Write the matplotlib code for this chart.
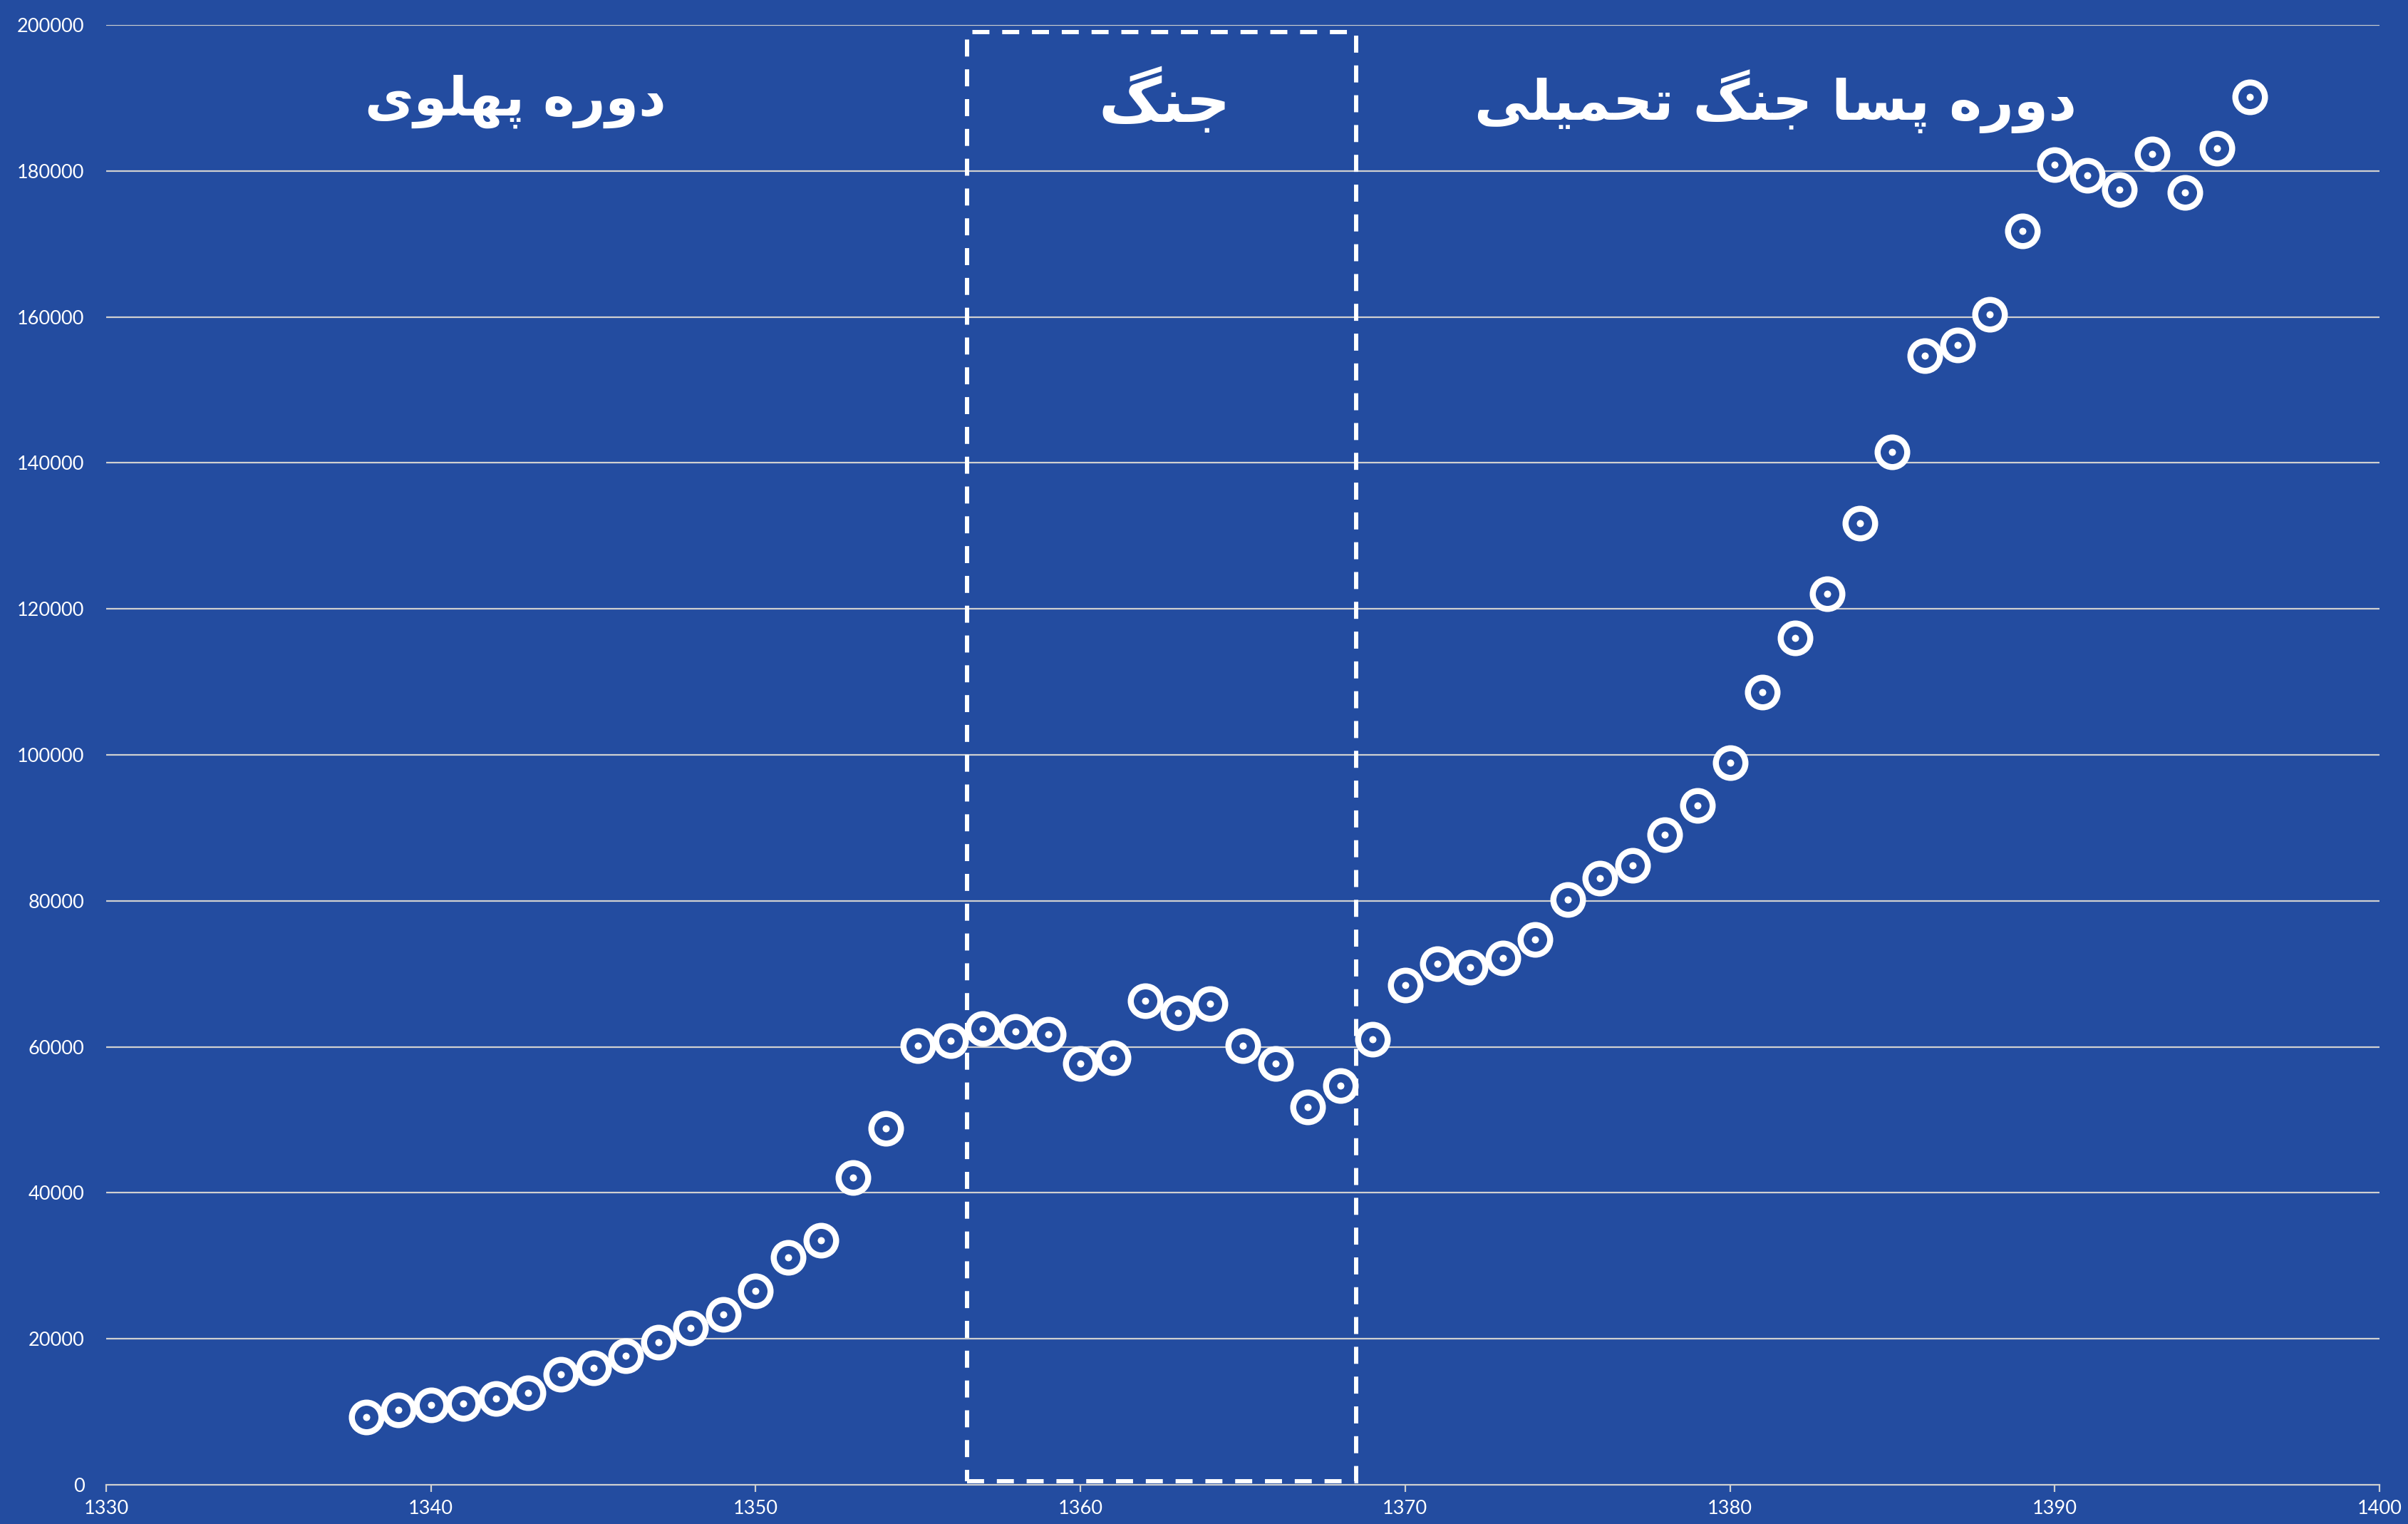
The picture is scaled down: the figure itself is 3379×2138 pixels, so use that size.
import matplotlib
matplotlib.use("Agg")
import matplotlib.pyplot as plt
from matplotlib.patches import Rectangle

# ---------------- data ----------------
years = list(range(1338, 1397))
values = [9300, 10300, 10950, 11150, 11800, 12630, 15160, 16000, 17680, 19580,
          21470, 23370, 26520, 31150, 33470, 42100, 48840, 60200, 60840, 62520,
          62100, 61680, 57680, 58520, 66300, 64630, 65890, 60200, 57680, 51790,
          54730, 61050, 68420, 71360, 70940, 72200, 74730, 80200, 83150, 84830,
          89040, 93040, 98940, 108620, 116000, 122100, 131780, 141460, 154720, 156200,
          160400, 171770, 180830, 179350, 177460, 182300, 177040, 183140, 190090]
x_ticks = list(range(1330, 1401, 10))
y_ticks = list(range(0, 200001, 20000))
period_labels = ["دوره پهلوی", "جنگ", "دوره پسا جنگ تحمیلی"]
period_centers = [1342.6, 1362.6, 1381.4]
period_sizes = [54, 62, 56]
war_start, war_end = 1356.5, 1368.5

# ------------- minimal Arabic/Persian shaping -------------
FORMS = {  # isolated, final, initial, medial
    'ا': ('\uFE8D', '\uFE8E', None, None),
    'ت': ('\uFE95', '\uFE96', '\uFE97', '\uFE98'),
    'ج': ('\uFE9D', '\uFE9E', '\uFE9F', '\uFEA0'),
    'ح': ('\uFEA1', '\uFEA2', '\uFEA3', '\uFEA4'),
    'د': ('\uFEA9', '\uFEAA', None, None),
    'ر': ('\uFEAD', '\uFEAE', None, None),
    'س': ('\uFEB1', '\uFEB2', '\uFEB3', '\uFEB4'),
    'ل': ('\uFEDD', '\uFEDE', '\uFEDF', '\uFEE0'),
    'م': ('\uFEE1', '\uFEE2', '\uFEE3', '\uFEE4'),
    'ن': ('\uFEE5', '\uFEE6', '\uFEE7', '\uFEE8'),
    'ه': ('\uFEE9', '\uFEEA', '\uFEEB', '\uFEEC'),
    'و': ('\uFEED', '\uFEEE', None, None),
    'ی': ('\uFBFC', '\uFBFD', '\uFBFE', '\uFBFF'),
    'پ': ('\uFB56', '\uFB57', '\uFB58', '\uFB59'),
    'گ': ('\uFB92', '\uFB93', '\uFB94', '\uFB95'),
}


def joins_next(c):
    return c in FORMS and FORMS[c][2] is not None


def shape(text):
    out = []
    n = len(text)
    for i, c in enumerate(text):
        if c not in FORMS:
            out.append(c)
            continue
        prev = text[i - 1] if i > 0 else ''
        nxt = text[i + 1] if i < n - 1 else ''
        cp = joins_next(prev)
        cn = joins_next(c) and nxt in FORMS
        iso, fin, ini, med = FORMS[c]
        if cp and cn:
            out.append(med)
        elif cp:
            out.append(fin)
        elif cn:
            out.append(ini)
        else:
            out.append(iso)
    return ''.join(reversed(out))


# ---------------- style ----------------
BG = '#234CA0'
GRID = '#D0D0D0'

fig = plt.figure(figsize=(33.8, 21.38), dpi=100, facecolor=BG)
ax = fig.add_axes([149 / 3380, 1 - 2083 / 2138, 3190 / 3380, 2048 / 2138])
ax.set_facecolor(BG)

ax.set_xlim(1330, 1400)
ax.set_ylim(0, 200000)
ax.set_xticks(x_ticks)
ax.set_yticks(y_ticks)
ax.set_xticklabels([str(t) for t in x_ticks])
ax.set_yticklabels([str(t) for t in y_ticks])

for s in ['top', 'right', 'left']:
    ax.spines[s].set_visible(False)
ax.spines['bottom'].set_color(GRID)
ax.spines['bottom'].set_linewidth(1.6)

ax.tick_params(axis='x', colors=GRID, length=7, width=1.6, direction='out', pad=8,
               labelcolor='white', labelsize=19.5)
ax.tick_params(axis='y', length=0, pad=22, labelcolor='white', labelsize=19.5)
for lab in ax.get_xticklabels() + ax.get_yticklabels():
    lab.set_family(['Lato', 'DejaVu Sans'])

for t in y_ticks[1:]:
    ax.axhline(t, color=GRID, lw=1.6, zorder=1)

ax.plot(years, values, linestyle='none', marker='o', ms=29.9, mew=6.1,
        mfc=BG, mec='white', zorder=3)
ax.plot(years, values, linestyle='none', marker='o', ms=7.2, mew=0,
        mfc='white', zorder=4)

rect = Rectangle((war_start, 500), war_end - war_start, 199000 - 500,
                 fill=False, edgecolor='white', lw=4.3, linestyle=(0, (4, 3)),
                 zorder=5)
ax.add_patch(rect)

for lab, xc, fs in zip(period_labels, period_centers, period_sizes):
    ax.text(xc, 189500, shape(lab), ha='center', va='center', color='white',
            fontsize=fs, fontweight='bold', family=['DejaVu Sans'], zorder=6)

fig.savefig('out.png', dpi=100, facecolor=BG)
